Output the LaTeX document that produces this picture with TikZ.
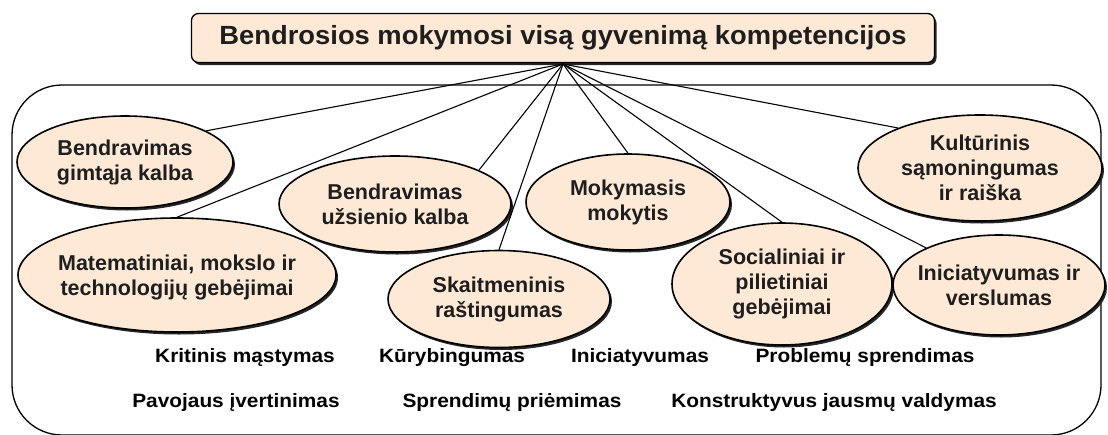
\documentclass[tikz,border=0pt]{standalone}
\usepackage{fontspec}
\setmainfont{Liberation Sans}
\newfontfamily\widesans[FakeStretch=1.08]{Liberation Sans}
\newfontfamily\titlesans[FakeStretch=1.04]{Liberation Sans}
\usetikzlibrary{shapes.geometric,shadows}
\definecolor{peach}{RGB}{253,233,214}
\definecolor{ink}{RGB}{30,30,30}
\tikzset{
  bubble/.style={ellipse, draw=black, line width=1.6pt, fill=peach, inner sep=0pt,
    drop shadow={shadow xshift=2pt, shadow yshift=-2.5pt, fill=black!85, opacity=1}},
  btext/.style={inner sep=0pt, align=center, text=ink, font=\bfseries\fontsize{21.5}{25}\selectfont},
  link/.style={line width=1.1pt, black},
  skill/.style={font=\widesans\bfseries\fontsize{19.3}{23}\selectfont, inner sep=0pt},
}
\begin{document}
\begin{tikzpicture}[x=1pt,y=-1pt]
\useasboundingbox (0,0) rectangle (1108,434);
\draw[line width=1.3pt, rounded corners=50pt] (12,85) rectangle (1101,435);
\node[draw=black, line width=1.3pt, fill=peach, rounded corners=7pt,
  minimum width=743pt, minimum height=49pt, inner sep=0pt, text=ink,
  font=\titlesans\bfseries\fontsize{26.3}{30}\selectfont,
  drop shadow={shadow xshift=2pt, shadow yshift=-2.5pt, fill=black!85, opacity=1}]
  (title) at (563,38) {Bendrosios mokymosi visą gyvenimą kompetencijos};
\coordinate (hub) at (563,64);
\node[bubble, minimum width=216pt, minimum height=92pt] (e1) at (125,162) {};
\node[bubble, minimum width=232pt, minimum height=96pt] (e2) at (395,204) {};
\node[bubble, minimum width=318pt, minimum height=114pt] (e3) at (177,275) {};
\node[bubble, minimum width=222pt, minimum height=97pt] (e4) at (499,299) {};
\node[bubble, minimum width=204pt, minimum height=96pt] (e5) at (628,202) {};
\node[bubble, minimum width=220pt, minimum height=122pt] (e6) at (782,284) {};
\node[bubble, minimum width=212pt, minimum height=100pt] (e7) at (999,285) {};
\node[bubble, minimum width=244pt, minimum height=106pt] (e8) at (980,168) {};
\node[btext] (t1) at (e1) {Bendravimas\\gimtąja kalba};
\node[btext] (t2) at (e2) {Bendravimas\\užsienio kalba};
\node[btext] (t3) at ([yshift=-2pt]e3.center) {Matematiniai, mokslo ir\\technologijų gebėjimai};
\node[btext] (t4) at (e4) {Skaitmeninis\\raštingumas};
\node[btext] (t5) at (e5) {Mokymasis\\mokytis};
\node[btext] (t6) at (e6) {Socialiniai ir\\pilietiniai\\gebėjimai};
\node[btext] (t7) at (e7) {Iniciatyvumas ir\\verslumas};
\node[btext] (t8) at (e8) {Kultūrinis\\sąmoningumas\\ir raiška};
\draw[link] (hub) -- (e1.21);
\draw[link] (hub) -- (e3.north);
\draw[link] (hub) -- (e2.22);
\draw[link] (hub) -- (e4.north);
\draw[link] (hub) -- (e5.north);
\draw[link] (hub) -- (e6.north);
\draw[link] (hub) -- (e7.153);
\draw[link] (hub) -- (e8.154);
\node[skill] (s1) at (245,358) {Kritinis mąstymas};
\node[skill] (s2) at (452,358) {Kūrybingumas};
\node[skill] (s3) at (640,358) {Iniciatyvumas};
\node[skill] (s4) at (865,358) {Problemų sprendimas};
\node[skill] (s5) at (236,403) {Pavojaus įvertinimas};
\node[skill] (s6) at (512,403) {Sprendimų priėmimas};
\node[skill] (s7) at (834,403) {Konstruktyvus jausmų valdymas};
\end{tikzpicture}
\end{document}
